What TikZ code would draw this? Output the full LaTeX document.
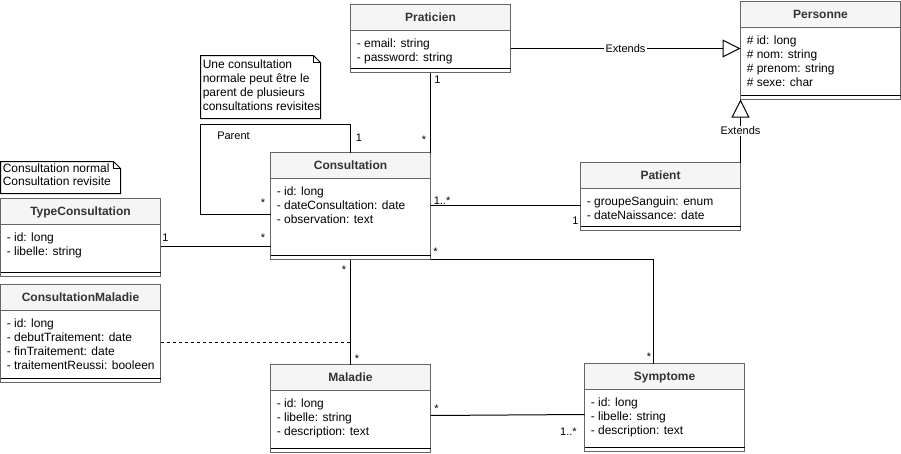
\documentclass[tikz,border=0pt]{standalone}
\usepackage{fontspec}
\setmainfont{Liberation Sans}
\usetikzlibrary{arrows.meta,calc}
\definecolor{hdrfill}{HTML}{F5F5F5}
\definecolor{boxline}{HTML}{666666}
\definecolor{hdrtext}{HTML}{333333}
\tikzset{
  classbox/.style={draw=boxline, fill=white, line width=0.75pt, inner sep=0pt, outer sep=0pt, anchor=north west},
  classtitle/.style={anchor=base, inner sep=0pt, text=hdrtext, font=\bfseries\fontsize{9}{10.5}\selectfont},
  classattrs/.style={anchor=north west, inner sep=0pt, align=left, font=\fontsize{9}{10.5}\selectfont},
  notebg/.style={inner sep=0pt, outer sep=0pt, anchor=north west},
  notestyle/.style={draw=black, fill=white, line width=0.75pt, line join=miter},
  notetext/.style={anchor=north west, inner sep=0pt, align=left, font=\fontsize{9}{10.5}\selectfont},
  assoc/.style={draw=black, line width=0.75pt},
  extends/.style={assoc, -{Triangle[open, length=13.5pt, width=13.5pt, fill=white]}},
  lbl/.style={inner sep=0pt, font=\fontsize{8.25}{9}\selectfont},
  lblbg/.style={lbl, fill=white, inner sep=1pt},
}
\newcommand\umlclass[8]{%
  \node[classbox, minimum width=#4*0.75pt, minimum height=#5*0.75pt] (#1) at (#2,#3) {};
  \fill[hdrfill] (#2,#3) rectangle ++(#4,26);
  \draw[boxline, line width=0.75pt] (#1.north west) rectangle (#1.south east);
  \draw[boxline, line width=0.75pt] ($(#1.north west)+(0,26)$) -- ++(#4,0);
  \draw[black, line width=0.75pt] ($(#1.north west)+(0,#6)$) -- ++(#4,0);
  \node[classtitle] (#1-title) at ($(#1.north)+(0,17)$) {#7};
  \node[classattrs] (#1-attrs) at ($(#1.north west)+(6,32.5)$) {\strut #8};
}
\begin{document}
\begin{tikzpicture}[x=0.75pt, y=-0.75pt]
\useasboundingbox (-0.5,-0.5) rectangle (900.5,453.5);

% classes
\umlclass{prat}{350}{4}{160}{68}{64}{Praticien}{- email: string\\- password: string}
\umlclass{pers}{740}{1}{160}{98}{94}{Personne}{\# id: long\\\# nom: string\\\# prenom: string\\\# sexe: char}
\umlclass{pat}{580}{162}{160}{68}{64}{Patient}{- groupeSanguin: enum\\- dateNaissance: date}
\umlclass{cons}{270}{152}{160}{107}{103}{Consultation}{- id: long\\- dateConsultation: date\\- observation: text}
\umlclass{type}{0}{198}{160}{78}{74}{TypeConsultation}{- id: long\\- libelle: string}
\umlclass{cm}{0}{284}{160}{98}{94}{ConsultationMaladie}{- id: long\\- debutTraitement: date\\- finTraitement: date\\- traitementReussi: booleen}
\umlclass{mal}{270}{364}{160}{88}{84}{Maladie}{- id: long\\- libelle: string\\- description: text}
\umlclass{sym}{584}{363}{160}{88}{84}{Symptome}{- id: long\\- libelle: string\\- description: text}

% notes
\node[notebg, minimum width=120*0.75pt, minimum height=63*0.75pt] (note1) at (200,55) {};
\draw[notestyle] (note1.north west) -- ($(note1.north east)+(-7,0)$) -- ($(note1.north east)+(0,7)$) -- (note1.south east) -- (note1.south west) -- cycle;
\draw[notestyle, fill=none] ($(note1.north east)+(-7,0)$) -- ($(note1.north east)+(-7,7)$) -- ($(note1.north east)+(0,7)$);
\node[notetext] (note1-text) at ($(note1.north west)+(2,3.2)$) {\strut Une consultation\\normale peut être le\\parent de plusieurs\\consultations revisites};

\node[notebg, minimum width=120*0.75pt, minimum height=32*0.75pt] (note2) at (0,161) {};
\draw[notestyle] (note2.north west) -- ($(note2.north east)+(-7,0)$) -- ($(note2.north east)+(0,7)$) -- (note2.south east) -- (note2.south west) -- cycle;
\draw[notestyle, fill=none] ($(note2.north east)+(-7,0)$) -- ($(note2.north east)+(-7,7)$) -- ($(note2.north east)+(0,7)$);
\node[notetext, font=\fontsize{9}{10}\selectfont] (note2-text) at ($(note2.north west)+(2,1.5)$) {\strut Consultation normal\\Consultation revisite};

% inheritance
\draw[extends] ($(prat.north east)+(0,44)$) -- node[lblbg] {Extends} ($(pers.north west)+(0,47)$);
\draw[extends] (pat.north east) -- node[lblbg] {Extends} (pers.south west);

% Praticien - Consultation
\draw[assoc] (prat.south) -- (cons.north east);
\node[lbl, anchor=base] at (437,83) {1};
\node[lbl, anchor=base] at (423.5,143) {*};

% Parent loop
\coordinate (pl) at ($(cons.north west)+(0,62)$);
\draw[assoc] (cons.north) -- ++(0,-28) -- ++(-150,0) -- ++(0,90) -- (pl);
\node[lbl] at (233,135) {Parent};
\node[lbl, anchor=base] at (358.5,140.6) {1};
\node[lbl, anchor=base] at (262.5,206.3) {*};

% Consultation - Patient
\draw[assoc] ($(cons.north east)+(0,53)$) -- ($(pat.north west)+(0,43)$);
\node[lbl, anchor=base west] at (433,204) {1..*};
\node[lbl, anchor=base] at (575,224) {1};

% TypeConsultation - Consultation
\draw[assoc] ($(type.north east)+(0,48)$) -- ($(cons.north west)+(0,94)$);
\node[lbl, anchor=base] at (165,240.6) {1};
\node[lbl, anchor=base] at (262.5,241.3) {*};

% Consultation - Symptome
\draw[assoc] (cons.south east) -| ($(sym.north west)+(69,0)$);
\node[lbl, anchor=base] at (435,255.3) {*};
\node[lbl, anchor=base] at (648.5,359.6) {*};

% Consultation - Maladie
\draw[assoc] (cons.south) -- (mal.north);
\node[lbl, anchor=base] at (343.5,273) {*};
\node[lbl, anchor=base] at (356.5,362.3) {*};

% association class link
\coordinate (cmr) at ($(cm.north east)+(0,58)$);
\coordinate (cmj) at (cmr -| cons.south);
\draw[assoc, dash pattern=on 2.25pt off 2.25pt] (cmr) -- (cmj);

% Maladie - Symptome
\draw[assoc] ($(mal.north east)+(0,51)$) -- ($(sym.north west)+(0,51)$);
\node[lbl, anchor=base] at (436,412) {*};
\node[lbl, anchor=base] at (568,435) {1..*};
\end{tikzpicture}
\end{document}
